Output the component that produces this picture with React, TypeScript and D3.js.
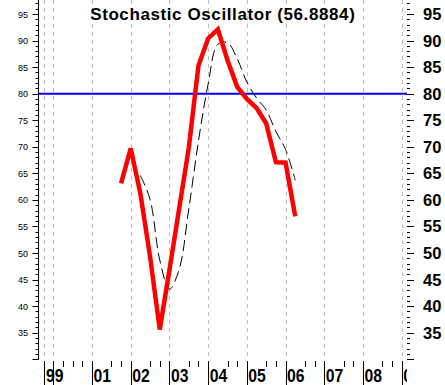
import * as d3 from "d3";

// quarterly sample positions (fractional years)
const kDates = [2001.75, 2002, 2002.25, 2002.5, 2002.75, 2003, 2003.25, 2003.5, 2003.75, 2004, 2004.25, 2004.5, 2004.75, 2005, 2005.25, 2005.5, 2005.75, 2006, 2006.25];
const kValues = [63.1, 69.7, 61.2, 49.3, 35.6, 46.8, 58.3, 69.8, 85.3, 90.4, 92.1, 86.3, 81.3, 79.0, 77.3, 74.4, 67.1, 67.0, 56.9];
const dDates = [2002.25, 2002.5, 2002.75, 2003, 2003.25, 2003.5, 2003.75, 2004, 2004.25, 2004.5, 2004.75, 2005, 2005.25, 2005.5, 2005.75, 2006, 2006.25];
const dValues = [64.6, 60.1, 48.7, 43.2, 46.9, 58.3, 71.1, 81.8, 89.3, 89.6, 86.6, 82.2, 79.2, 76.9, 72.9, 69.5, 63.7];

const yearTicks = [1999.77, 2000, 2001, 2002, 2003, 2004, 2005, 2006, 2007, 2008, 2009];
const yearLabels = ["99", "", "01", "02", "03", "04", "05", "06", "07", "08", "09"];
const leftLabels = [35, 40, 45, 50, 55, 60, 65, 70, 75, 80, 85, 90, 95];
const signalLevel = 80;
const title = "Stochastic Oscillator (56.8884)";

const width = 445;
const height = 385;
const font = "'Liberation Sans', Arial, sans-serif";

export default function App() {
  const x = d3.scaleLinear().domain([2000, 2009]).range([53.3, 401.7]);
  const y = d3.scaleLinear().domain([30, 95]).range([359.3, 14]);
  const axisX = 38.5;
  const rightTickX = 407;
  const plotBottom = y(30);

  const kLine = d3.line<number>()
    .x((_, i) => x(kDates[i]))
    .y(d => y(d));
  const dLine = d3.line<number>()
    .x((_, i) => x(dDates[i]))
    .y(d => y(d))
    .curve(d3.curveCatmullRom.alpha(0.5));

  const minor = d3.range(30, 98);
  const major = d3.range(30, 96, 5);

  // short ticks on the time axis
  const shortTicks: number[] = [2000.25];
  for (let yr = 2000; yr <= 2008; yr++) {
    shortTicks.push(yr + 0.5, yr + 0.75);
  }

  return (
    <svg width={width} height={height} style={{ display: "block", background: "#fff" }}>
      <style>{`body{margin:0}`}</style>
      <defs>
        <clipPath id="xlab">
          <rect x={0} y={360} width={407} height={30} />
        </clipPath>
      </defs>
      <rect width={width} height={height} fill="#fff" />

      {/* vertical grid */}
      <g stroke="#bdbdbd" strokeDasharray="4,4">
        {yearTicks.map((t, i) => (
          <line key={i} x1={Math.round(x(t)) + 0.5} x2={Math.round(x(t)) + 0.5} y1={0} y2={plotBottom} />
        ))}
      </g>

      {/* signal level */}
      <line x1={axisX} x2={rightTickX} y1={y(signalLevel)} y2={y(signalLevel)} stroke="#0000ff" strokeWidth={2} />

      {/* %D dashed */}
      <path d={dLine(dValues) || ""} fill="none" stroke="#000" strokeWidth={1} strokeDasharray="11,5" />

      {/* %K */}
      <path d={kLine(kValues) || ""} fill="none" stroke="#ff0000" strokeWidth={4.5} strokeLinejoin="miter" />

      {/* left axis */}
      <line x1={axisX} x2={axisX} y1={0} y2={Math.round(plotBottom) + 0.5} stroke="#000" />
      <g stroke="#000">
        {minor.map(v => (
          <line key={"m" + v} x1={axisX - 3} x2={axisX} y1={Math.round(y(v)) + 0.5} y2={Math.round(y(v)) + 0.5} />
        ))}
        {major.map(v => (
          <line key={"M" + v} x1={axisX - 6} x2={axisX} y1={Math.round(y(v)) + 0.5} y2={Math.round(y(v)) + 0.5} />
        ))}
      </g>
      <g fontFamily={font} fontSize={9} textAnchor="end">
        {leftLabels.map(v => (
          <text key={v} x={28} y={y(v) + 3.5}>{v}</text>
        ))}
      </g>

      {/* right axis */}
      <g stroke="#000">
        {minor.map(v => (
          <line key={"rm" + v} x1={rightTickX} x2={rightTickX + 3} y1={Math.round(y(v)) + 0.5} y2={Math.round(y(v)) + 0.5} />
        ))}
        {major.map(v => (
          <line key={"rM" + v} x1={rightTickX} x2={rightTickX + 7} y1={Math.round(y(v)) + 0.5} y2={Math.round(y(v)) + 0.5} />
        ))}
      </g>
      <g fontFamily={font} fontSize={16.5} fontWeight="bold" textAnchor="start">
        {leftLabels.map(v => (
          <text key={v} x={423} y={y(v) + 6}>{v}</text>
        ))}
      </g>

      {/* time axis */}
      <g stroke="#000">
        {yearTicks.map((t, i) => (
          <line key={i} x1={Math.round(x(t)) + 0.5} x2={Math.round(x(t)) + 0.5} y1={361} y2={height} />
        ))}
        {shortTicks.map((t, i) => (
          <line key={"s" + i} x1={Math.round(x(t)) + 0.5} x2={Math.round(x(t)) + 0.5} y1={361} y2={367} />
        ))}
      </g>
      <g fontFamily={font} fontSize={18.5} fontWeight="bold" clipPath="url(#xlab)">
        {yearLabels.map((l, i) => l ? (
          <text key={i} x={x(yearTicks[i]) + 1.5} y={382} textLength={17.5} lengthAdjust="spacingAndGlyphs">{l}</text>
        ) : null)}
      </g>

      <text x={222.8} y={19.5} textAnchor="middle" fontFamily={font} fontSize={17} fontWeight="bold" letterSpacing={0.6}>{title}</text>
    </svg>
  );
}
